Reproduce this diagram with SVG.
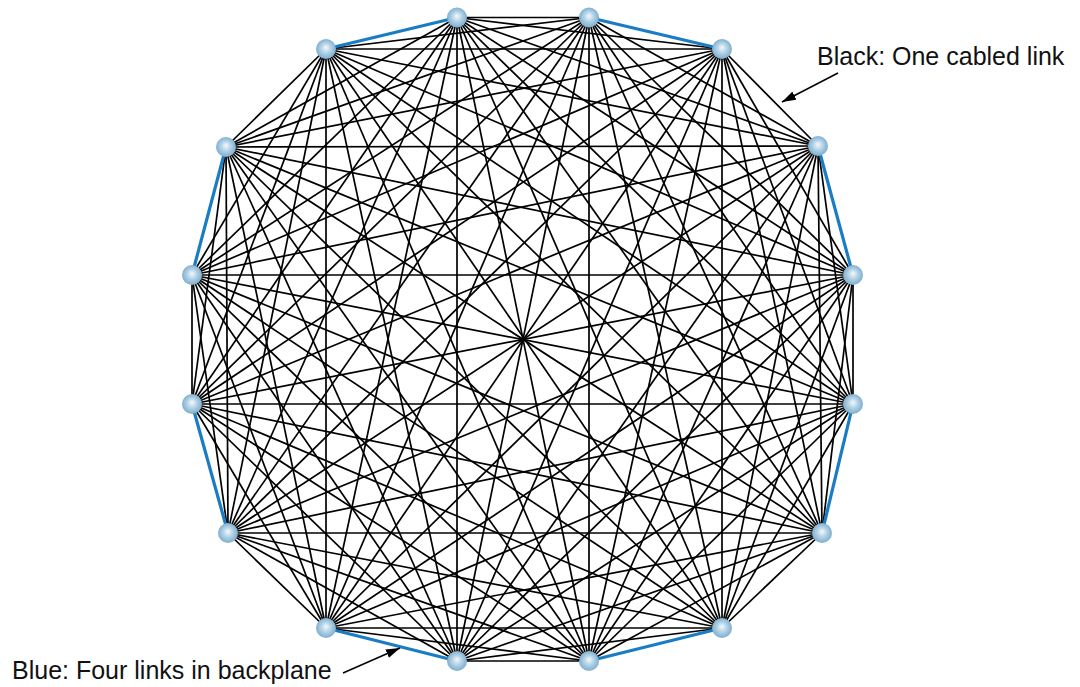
<svg xmlns="http://www.w3.org/2000/svg" width="1080" height="687" viewBox="0 0 1080 687">
<style>
.e{stroke:#000;stroke-width:1.7;fill:none}
.b{stroke:#1a7dc4;stroke-width:3.2;fill:none}
.n{fill:url(#sph)}
.t{font-family:"Liberation Sans",Arial,sans-serif;font-size:25px;fill:#111}
.a{stroke:#000;stroke-width:1.5;fill:none}
</style>
<defs>
<radialGradient id="sph" cx="0.5" cy="0.5" r="0.55" fx="0.5" fy="0.42">
<stop offset="0" stop-color="#f4f9fc"/>
<stop offset="0.45" stop-color="#b3d2e6"/>
<stop offset="1" stop-color="#74a8cb"/>
</radialGradient>
<marker id="ah" viewBox="0 0 14 9" refX="14" refY="4.5" markerWidth="14" markerHeight="9" markerUnits="userSpaceOnUse" orient="auto">
<path d="M0,0 L14,4.5 L0,9 Z" fill="#000"/>
</marker>
</defs>
<rect width="1080" height="687" fill="#fff"/>
<g id="connectors">
<line class="e" x1="457" y1="17.5" x2="589" y2="17.5"/>
<line class="e" x1="457" y1="17.5" x2="722" y2="49"/>
<line class="e" x1="457" y1="17.5" x2="818" y2="146"/>
<line class="e" x1="457" y1="17.5" x2="853" y2="275"/>
<line class="e" x1="457" y1="17.5" x2="853" y2="404"/>
<line class="e" x1="457" y1="17.5" x2="822" y2="533"/>
<line class="e" x1="457" y1="17.5" x2="722" y2="628"/>
<line class="e" x1="457" y1="17.5" x2="589" y2="661"/>
<line class="e" x1="457" y1="17.5" x2="457" y2="661"/>
<line class="e" x1="457" y1="17.5" x2="326" y2="628"/>
<line class="e" x1="457" y1="17.5" x2="228" y2="533"/>
<line class="e" x1="457" y1="17.5" x2="192" y2="404"/>
<line class="e" x1="457" y1="17.5" x2="192" y2="275"/>
<line class="e" x1="457" y1="17.5" x2="226" y2="147"/>
<line class="e" x1="589" y1="17.5" x2="818" y2="146"/>
<line class="e" x1="589" y1="17.5" x2="853" y2="275"/>
<line class="e" x1="589" y1="17.5" x2="853" y2="404"/>
<line class="e" x1="589" y1="17.5" x2="822" y2="533"/>
<line class="e" x1="589" y1="17.5" x2="722" y2="628"/>
<line class="e" x1="589" y1="17.5" x2="589" y2="661"/>
<line class="e" x1="589" y1="17.5" x2="457" y2="661"/>
<line class="e" x1="589" y1="17.5" x2="326" y2="628"/>
<line class="e" x1="589" y1="17.5" x2="228" y2="533"/>
<line class="e" x1="589" y1="17.5" x2="192" y2="404"/>
<line class="e" x1="589" y1="17.5" x2="192" y2="275"/>
<line class="e" x1="589" y1="17.5" x2="226" y2="147"/>
<line class="e" x1="589" y1="17.5" x2="326" y2="49"/>
<line class="e" x1="722" y1="49" x2="818" y2="146"/>
<line class="e" x1="722" y1="49" x2="853" y2="275"/>
<line class="e" x1="722" y1="49" x2="853" y2="404"/>
<line class="e" x1="722" y1="49" x2="822" y2="533"/>
<line class="e" x1="722" y1="49" x2="722" y2="628"/>
<line class="e" x1="722" y1="49" x2="589" y2="661"/>
<line class="e" x1="722" y1="49" x2="457" y2="661"/>
<line class="e" x1="722" y1="49" x2="326" y2="628"/>
<line class="e" x1="722" y1="49" x2="228" y2="533"/>
<line class="e" x1="722" y1="49" x2="192" y2="404"/>
<line class="e" x1="722" y1="49" x2="192" y2="275"/>
<line class="e" x1="722" y1="49" x2="226" y2="147"/>
<line class="e" x1="722" y1="49" x2="326" y2="49"/>
<line class="e" x1="818" y1="146" x2="853" y2="404"/>
<line class="e" x1="818" y1="146" x2="822" y2="533"/>
<line class="e" x1="818" y1="146" x2="722" y2="628"/>
<line class="e" x1="818" y1="146" x2="589" y2="661"/>
<line class="e" x1="818" y1="146" x2="457" y2="661"/>
<line class="e" x1="818" y1="146" x2="326" y2="628"/>
<line class="e" x1="818" y1="146" x2="228" y2="533"/>
<line class="e" x1="818" y1="146" x2="192" y2="404"/>
<line class="e" x1="818" y1="146" x2="192" y2="275"/>
<line class="e" x1="818" y1="146" x2="226" y2="147"/>
<line class="e" x1="818" y1="146" x2="326" y2="49"/>
<line class="e" x1="853" y1="275" x2="853" y2="404"/>
<line class="e" x1="853" y1="275" x2="822" y2="533"/>
<line class="e" x1="853" y1="275" x2="722" y2="628"/>
<line class="e" x1="853" y1="275" x2="589" y2="661"/>
<line class="e" x1="853" y1="275" x2="457" y2="661"/>
<line class="e" x1="853" y1="275" x2="326" y2="628"/>
<line class="e" x1="853" y1="275" x2="228" y2="533"/>
<line class="e" x1="853" y1="275" x2="192" y2="404"/>
<line class="e" x1="853" y1="275" x2="192" y2="275"/>
<line class="e" x1="853" y1="275" x2="226" y2="147"/>
<line class="e" x1="853" y1="275" x2="326" y2="49"/>
<line class="e" x1="853" y1="404" x2="722" y2="628"/>
<line class="e" x1="853" y1="404" x2="589" y2="661"/>
<line class="e" x1="853" y1="404" x2="457" y2="661"/>
<line class="e" x1="853" y1="404" x2="326" y2="628"/>
<line class="e" x1="853" y1="404" x2="228" y2="533"/>
<line class="e" x1="853" y1="404" x2="192" y2="404"/>
<line class="e" x1="853" y1="404" x2="192" y2="275"/>
<line class="e" x1="853" y1="404" x2="226" y2="147"/>
<line class="e" x1="853" y1="404" x2="326" y2="49"/>
<line class="e" x1="822" y1="533" x2="722" y2="628"/>
<line class="e" x1="822" y1="533" x2="589" y2="661"/>
<line class="e" x1="822" y1="533" x2="457" y2="661"/>
<line class="e" x1="822" y1="533" x2="326" y2="628"/>
<line class="e" x1="822" y1="533" x2="228" y2="533"/>
<line class="e" x1="822" y1="533" x2="192" y2="404"/>
<line class="e" x1="822" y1="533" x2="192" y2="275"/>
<line class="e" x1="822" y1="533" x2="226" y2="147"/>
<line class="e" x1="822" y1="533" x2="326" y2="49"/>
<line class="e" x1="722" y1="628" x2="457" y2="661"/>
<line class="e" x1="722" y1="628" x2="326" y2="628"/>
<line class="e" x1="722" y1="628" x2="228" y2="533"/>
<line class="e" x1="722" y1="628" x2="192" y2="404"/>
<line class="e" x1="722" y1="628" x2="192" y2="275"/>
<line class="e" x1="722" y1="628" x2="226" y2="147"/>
<line class="e" x1="722" y1="628" x2="326" y2="49"/>
<line class="e" x1="589" y1="661" x2="457" y2="661"/>
<line class="e" x1="589" y1="661" x2="326" y2="628"/>
<line class="e" x1="589" y1="661" x2="228" y2="533"/>
<line class="e" x1="589" y1="661" x2="192" y2="404"/>
<line class="e" x1="589" y1="661" x2="192" y2="275"/>
<line class="e" x1="589" y1="661" x2="226" y2="147"/>
<line class="e" x1="589" y1="661" x2="326" y2="49"/>
<line class="e" x1="457" y1="661" x2="228" y2="533"/>
<line class="e" x1="457" y1="661" x2="192" y2="404"/>
<line class="e" x1="457" y1="661" x2="192" y2="275"/>
<line class="e" x1="457" y1="661" x2="226" y2="147"/>
<line class="e" x1="457" y1="661" x2="326" y2="49"/>
<line class="e" x1="326" y1="628" x2="228" y2="533"/>
<line class="e" x1="326" y1="628" x2="192" y2="404"/>
<line class="e" x1="326" y1="628" x2="192" y2="275"/>
<line class="e" x1="326" y1="628" x2="226" y2="147"/>
<line class="e" x1="326" y1="628" x2="326" y2="49"/>
<line class="e" x1="228" y1="533" x2="192" y2="275"/>
<line class="e" x1="228" y1="533" x2="226" y2="147"/>
<line class="e" x1="228" y1="533" x2="326" y2="49"/>
<line class="e" x1="192" y1="404" x2="192" y2="275"/>
<line class="e" x1="192" y1="404" x2="226" y2="147"/>
<line class="e" x1="192" y1="404" x2="326" y2="49"/>
<line class="e" x1="192" y1="275" x2="326" y2="49"/>
<line class="e" x1="226" y1="147" x2="326" y2="49"/>
<line class="b" x1="326" y1="49" x2="457" y2="17.5"/>
<line class="b" x1="589" y1="17.5" x2="722" y2="49"/>
<line class="b" x1="818" y1="146" x2="853" y2="275"/>
<line class="b" x1="853" y1="404" x2="822" y2="533"/>
<line class="b" x1="722" y1="628" x2="589" y2="661"/>
<line class="b" x1="457" y1="661" x2="326" y2="628"/>
<line class="b" x1="228" y1="533" x2="192" y2="404"/>
<line class="b" x1="192" y1="275" x2="226" y2="147"/>
<line class="a" x1="838" y1="73" x2="782" y2="102" marker-end="url(#ah)"/>
<line class="a" x1="343" y1="673" x2="400" y2="648" marker-end="url(#ah)"/>
</g>
<g id="nodes">
<g id="n0"><circle class="n" cx="457" cy="17.5" r="10"/></g>
<g id="n1"><circle class="n" cx="589" cy="17.5" r="10"/></g>
<g id="n2"><circle class="n" cx="722" cy="49" r="10"/></g>
<g id="n3"><circle class="n" cx="818" cy="146" r="10"/></g>
<g id="n4"><circle class="n" cx="853" cy="275" r="10"/></g>
<g id="n5"><circle class="n" cx="853" cy="404" r="10"/></g>
<g id="n6"><circle class="n" cx="822" cy="533" r="10"/></g>
<g id="n7"><circle class="n" cx="722" cy="628" r="10"/></g>
<g id="n8"><circle class="n" cx="589" cy="661" r="10"/></g>
<g id="n9"><circle class="n" cx="457" cy="661" r="10"/></g>
<g id="n10"><circle class="n" cx="326" cy="628" r="10"/></g>
<g id="n11"><circle class="n" cx="228" cy="533" r="10"/></g>
<g id="n12"><circle class="n" cx="192" cy="404" r="10"/></g>
<g id="n13"><circle class="n" cx="192" cy="275" r="10"/></g>
<g id="n14"><circle class="n" cx="226" cy="147" r="10"/></g>
<g id="n15"><circle class="n" cx="326" cy="49" r="10"/></g>
</g>
<g id="labels">
<text class="t" x="817" y="65">Black: One cabled link</text>
<text class="t" x="12" y="679">Blue: Four links in backplane</text>
</g>
</svg>
